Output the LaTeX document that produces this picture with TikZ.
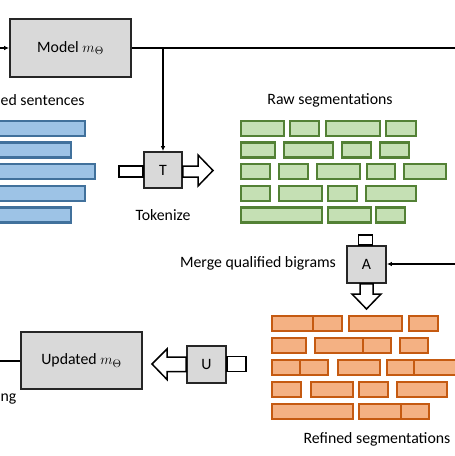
\documentclass[tikz,border=0pt]{standalone}
\usepackage{fontspec}
\setmainfont{Carlito}
\usetikzlibrary{arrows.meta}
\definecolor{boxgray}{HTML}{D9D9D9}
\definecolor{bluefill}{HTML}{9DC3E6}
\definecolor{blueline}{HTML}{41719C}
\definecolor{greenfill}{HTML}{C5E0B4}
\definecolor{greenline}{HTML}{538135}
\definecolor{orangefill}{HTML}{F4B183}
\definecolor{orangeline}{HTML}{C55A11}
\tikzset{
  graybox/.style={draw=black!85, fill=boxgray, line width=1.8pt, inner sep=0pt},
  lbl/.style={font=\fontsize{15.8}{18}\selectfont, inner sep=0pt},
  conn/.style={line width=1.4pt, draw=black},
  tipped/.style={conn, -{Latex[length=5pt,width=4.5pt]}},
  blockarrow/.style={draw=black, fill=white, line width=1.5pt, line join=miter},
  bluebar/.style={draw=blueline, fill=bluefill, line width=2.2pt},
  greenbar/.style={draw=greenline, fill=greenfill, line width=2.2pt},
  orangebar/.style={draw=orangeline, fill=orangefill, line width=2.2pt},
}
\begin{document}
\begin{tikzpicture}[x=1pt,y=-1pt]
\useasboundingbox (0,0) rectangle (455,456);
\clip (0,0) rectangle (455,456);
\fill[white] (0,0) rectangle (455,456);

% main boxes
\node[graybox, minimum width=121pt, minimum height=58pt] (model) at (70.5,48) {};
\node[lbl] (modeltxt) at (70.5,48) {Model $m_\Theta$};
\node[graybox, minimum width=121pt, minimum height=57pt] (updated) at (81.5,360.5) {};
\node[lbl] (updatedtxt) at (81.5,360.5) {Updated $m_\Theta$};

% small operator boxes
\node[graybox, minimum width=38pt, minimum height=36pt] (T) at (163,170) {};
\node[lbl] (Ttxt) at (163,170) {T};
\node[graybox, minimum width=39pt, minimum height=37pt] (A) at (366.5,264.5) {};
\node[lbl] (Atxt) at (366.5,264.5) {A};
\node[graybox, minimum width=39pt, minimum height=37pt] (U) at (206.5,364.5) {};
\node[lbl] (Utxt) at (206.5,364.5) {U};

% free ends
\coordinate (inL) at (-5,48);
\coordinate (outR) at (460,48);
\coordinate (branch) at (163,48);
\coordinate (aIn) at (460,264);
\coordinate (updL) at (-5,361);

% connectors
\draw[tipped] (inL) -- (model.west);
\draw[conn] (model.east) -- (outR);
\draw[tipped] (branch) -- (T.north);
\draw[tipped] (aIn) -- (A.east |- aIn);
\draw[conn] (updL) -- (updated.west |- updL);

% block arrows of T
\draw[blockarrow] (119,166) rectangle (T.west |- 0,177);
\draw[blockarrow] (T.east |- 0,166) -- (198,166) -- (198,155) -- (213,170.5) -- (198,186) -- (198,177) -- (T.east |- 0,177) -- cycle;
% block arrows of A
\draw[blockarrow] (358.5,235) rectangle (372.5,0 |- A.north);
\draw[blockarrow] (360,0 |- A.south) -- (360,294) -- (352,294) -- (366.5,309) -- (381,294) -- (373,294) -- (373,0 |- A.south) -- cycle;
% block arrows of U
\draw[blockarrow] (U.west |- 0,357) -- (167,357) -- (167,349) -- (152,364) -- (167,379.5) -- (167,371.5) -- (U.west |- 0,371.5) -- cycle;
\draw[blockarrow] (U.east |- 0,356.5) rectangle (246,371.5);

% labels
\node[lbl, anchor=west] (sent) at (0.5,100) {ed sentences};
\node[lbl] (raw) at (330,100) {Raw segmentations};
\node[lbl] (tok) at (163,215) {Tokenize};
\node[lbl] (merge) at (258,263) {Merge qualified bigrams};
\node[lbl] (refined) at (377,439) {Refined segmentations};
\node[lbl, anchor=west] (train) at (0.5,399) {ng};

% blue bars
\draw[bluebar] (-10,121) rectangle (85,136);
\draw[bluebar] (-10,142.5) rectangle (71,157.5);
\draw[bluebar] (-10,164) rectangle (95,179);
\draw[bluebar] (-10,186) rectangle (85,201);
\draw[bluebar] (-10,207.5) rectangle (71,222.5);

% green bars
\foreach \a/\b in {241/284, 290/319, 326/380, 386/416}
  \draw[greenbar] (\a,121) rectangle (\b,136);
\foreach \a/\b in {241/275, 284/333, 342/371, 380/409}
  \draw[greenbar] (\a,142.5) rectangle (\b,157.5);
\foreach \a/\b in {241/270, 279/308, 317/360, 367/395, 404/446}
  \draw[greenbar] (\a,164) rectangle (\b,179);
\foreach \a/\b in {241/270, 279/322, 328/357, 366/416}
  \draw[greenbar] (\a,186) rectangle (\b,201);
\foreach \a/\b in {241/322, 328/371, 376/405}
  \draw[greenbar] (\a,207.5) rectangle (\b,222.5);

% orange bars
\foreach \a/\b in {272/313, 313/342, 349/402, 409/438}
  \draw[orangebar] (\a,316) rectangle (\b,331);
\foreach \a/\b in {272/306, 315/363, 363/391, 400/428}
  \draw[orangebar] (\a,338) rectangle (\b,353);
\foreach \a/\b in {272/300, 300/328, 338/380, 387/414, 414/462}
  \draw[orangebar] (\a,360) rectangle (\b,375);
\foreach \a/\b in {272/301, 311/353, 359/388, 397/447}
  \draw[orangebar] (\a,382) rectangle (\b,397);
\foreach \a/\b in {272/353, 359/401, 401/429}
  \draw[orangebar] (\a,404) rectangle (\b,419);
\end{tikzpicture}
\end{document}
